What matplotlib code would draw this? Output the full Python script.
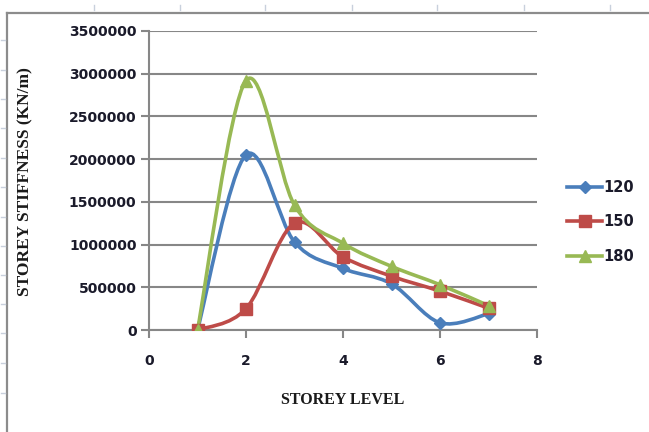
import numpy as np
import matplotlib
matplotlib.use("Agg")
import matplotlib.pyplot as plt
from matplotlib.path import Path
from matplotlib.patches import PathPatch
from matplotlib.lines import Line2D

storey = [1, 2, 3, 4, 5, 6, 7]
s120 = [0, 2050000, 1030000, 720000, 540000, 85000, 190000]
s150 = [0, 250000, 1250000, 855000, 630000, 455000, 255000]
s180 = [0, 2920000, 1460000, 1015000, 745000, 530000, 285000]
series_names = ["120", "150", "180"]
x_ticks = [0, 2, 4, 6, 8]
y_ticks = [0, 500000, 1000000, 1500000, 2000000, 2500000, 3000000, 3500000]

colors = ["#4A7EBB", "#BE4B48", "#98B954"]
markers = ["D", "s", "^"]
msizes = [6, 9, 9]

W, H = 649, 432
fig = plt.figure(figsize=(W / 100, H / 100), dpi=100)
fig.patch.set_facecolor("white")

# chart frame and sheet rulers
fig.add_artist(Line2D([7 / W, 1], [1 - 13 / H] * 2, color="#8c8c8c", lw=1.6))
fig.add_artist(Line2D([7 / W] * 2, [0, 1 - 13 / H], color="#8c8c8c", lw=1.6))
for px in [94, 180, 265, 352, 437, 524, 610]:
    fig.add_artist(Line2D([px / W] * 2, [1 - 5 / H, 1 - 10 / H], color="#c8d0dc", lw=1))
for py in [40, 70, 99, 128, 158, 187, 217, 246, 275, 304, 333, 363, 393]:
    fig.add_artist(Line2D([1 / W, 5 / W], [1 - py / H] * 2, color="#c8d0dc", lw=1))

ax = fig.add_axes([149 / W, 1 - 330 / H, (537 - 149) / W, (330 - 31) / H])
ax.set_xlim(0, 8)
ax.set_ylim(0, 3500000)
ax.set_xticks(x_ticks)
ax.set_yticks(y_ticks)
ax.set_yticklabels([str(v) for v in y_ticks])
ax.set_xticklabels([str(v) for v in x_ticks])
ax.grid(axis="y", color="#878787", lw=1.5)
ax.set_axisbelow(True)
for side in ["top", "right"]:
    ax.spines[side].set_visible(False)
for side in ["left", "bottom"]:
    ax.spines[side].set_color("#878787")
    ax.spines[side].set_linewidth(1.5)
ax.tick_params(axis="both", direction="out", length=6, width=1.5, color="#878787",
               labelsize=10, pad=3)
ax.tick_params(axis="x", pad=11)
for lbl in ax.get_xticklabels() + ax.get_yticklabels():
    lbl.set_fontweight("bold")
    lbl.set_fontfamily("DejaVu Sans")
    lbl.set_color("#1a1a2a")


def smooth_path(xs, ys):
    # Catmull-Rom style cubic Bezier through every point
    pts = np.column_stack([xs, ys]).astype(float)
    n = len(pts)
    verts = [pts[0]]
    codes = [Path.MOVETO]
    for i in range(n - 1):
        p0 = pts[i - 1] if i > 0 else pts[i]
        p1 = pts[i]
        p2 = pts[i + 1]
        p3 = pts[i + 2] if i + 2 < n else pts[i + 1]
        c1 = p1 + (p2 - p0) / 6.0
        c2 = p2 - (p3 - p1) / 6.0
        verts += [c1, c2, p2]
        codes += [Path.CURVE4] * 3
    return Path(verts, codes)


handles = []
for name, vals, c, m, ms in zip(series_names, [s120, s150, s180], colors, markers, msizes):
    patch = PathPatch(smooth_path(storey, vals), facecolor="none", edgecolor=c, lw=2.6,
                      capstyle="round", joinstyle="round", zorder=3)
    ax.add_patch(patch)
    ax.plot(storey, vals, linestyle="none", marker=m, ms=ms, color=c, mec=c, zorder=4)
    handles.append(Line2D([], [], color=c, lw=2.6, marker=m, ms=ms, mec=c, label=name))

leg = fig.legend(handles=handles, loc="center left", bbox_to_anchor=(554 / W, 1 - 222 / H),
                 frameon=False, handlelength=2.4, handletextpad=0.05, labelspacing=1.35,
                 prop={"size": 10.5, "weight": "bold"})
for t in leg.get_texts():
    t.set_color("#1a1a2a")

serif = ["Liberation Serif", "DejaVu Serif"]
ax.set_xlabel("STOREY LEVEL", fontsize=11.5, fontweight="bold", family=serif,
              color="#1a1a1a")
ax.set_ylabel("STOREY STIFFNESS (KN/m)", fontsize=12.5, fontweight="bold", family=serif,
              color="#1a1a1a")
ax.xaxis.set_label_coords(0.5, (330 - 392) / 299)
ax.yaxis.set_label_coords((33 - 149) / 388, (330 - 182) / 299)

fig.savefig("out.png", dpi=100)
